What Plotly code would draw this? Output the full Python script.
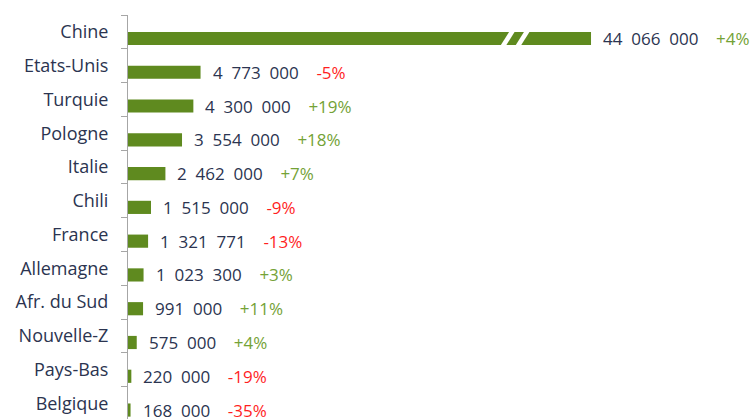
import plotly.graph_objects as go

countries = ["Chine", "Etats-Unis", "Turquie", "Pologne", "Italie", "Chili", "France",
             "Allemagne", "Afr. du Sud", "Nouvelle-Z", "Pays-Bas", "Belgique"]
values = [44066000, 4773000, 4300000, 3554000, 2462000, 1515000, 1321771,
          1023300, 991000, 575000, 220000, 168000]
changes = ["+4%", "-5%", "+19%", "+18%", "+7%", "-9%", "-13%",
           "+3%", "+11%", "+4%", "-19%", "-35%"]

# broken axis: values above the cap are drawn truncated, with a break marker
AXIS_CAP = 30.46e6
BREAK_AT = 24.5e6

BAR = "#5f8a1f"
GREEN = "#74a236"
RED = "#ff1f1f"
TXT = "#2b3450"
FONT = "Open Sans"

shown = [min(v, AXIS_CAP) for v in values]

def fmt(v):
    return f"{v:,}".replace(",", "\u00a0\u00a0")

fig = go.Figure()
fig.add_trace(go.Bar(
    x=shown, y=countries, orientation="h",
    marker=dict(color=BAR, line=dict(width=0)),
    width=0.39, offset=0, hoverinfo="skip",
))

annotations = []
for i, (v, s, c) in enumerate(zip(values, shown, changes)):
    col = GREEN if c.startswith("+") else RED
    annotations.append(dict(
        x=s, y=i + 0.195, xref="x", yref="y",
        text=f"{fmt(v)}\u00a0\u00a0\u00a0\u00a0<span style='color:{col}'>{c}</span>",
        showarrow=False, xanchor="left", yanchor="middle", xshift=10,
        font=dict(family=FONT, size=17, color=TXT),
    ))

shapes = []
for i, v in enumerate(values):
    if v > AXIS_CAP:
        y0, y1 = i - 0.02, i + 0.41
        for k in range(2):
            xa = BREAK_AT + k * 0.98e6
            w, sl = 0.36e6, 0.6e6
            shapes.append(dict(
                type="path", xref="x", yref="y",
                path=f"M {xa},{y1} L {xa + w},{y1} L {xa + w + sl},{y0} L {xa + sl},{y0} Z",
                fillcolor="white", line=dict(width=0), layer="above",
            ))

fig.update_layout(
    width=752, height=419,
    margin=dict(l=128, r=0, t=15, b=0, autoexpand=False),
    paper_bgcolor="white", plot_bgcolor="white",
    showlegend=False,
    annotations=annotations, shapes=shapes,
    xaxis=dict(range=[0, 41.05e6], visible=False, fixedrange=True, automargin=False),
    yaxis=dict(
        type="category", categoryorder="array", categoryarray=countries,
        range=[11.46, -0.5], tickson="boundaries", automargin=False,
        ticks="outside", ticklen=6, tickwidth=1, tickcolor="#a6a6a6",
        showline=True, linecolor="#a6a6a6", linewidth=1,
        showgrid=False, ticklabelstandoff=15,
        tickfont=dict(family=FONT, size=18, color=TXT),
    ),
)

fig.write_html("out.html", config={"displayModeBar": False},
               post_script="document.body.style.margin='0';document.body.style.overflow='hidden';")
